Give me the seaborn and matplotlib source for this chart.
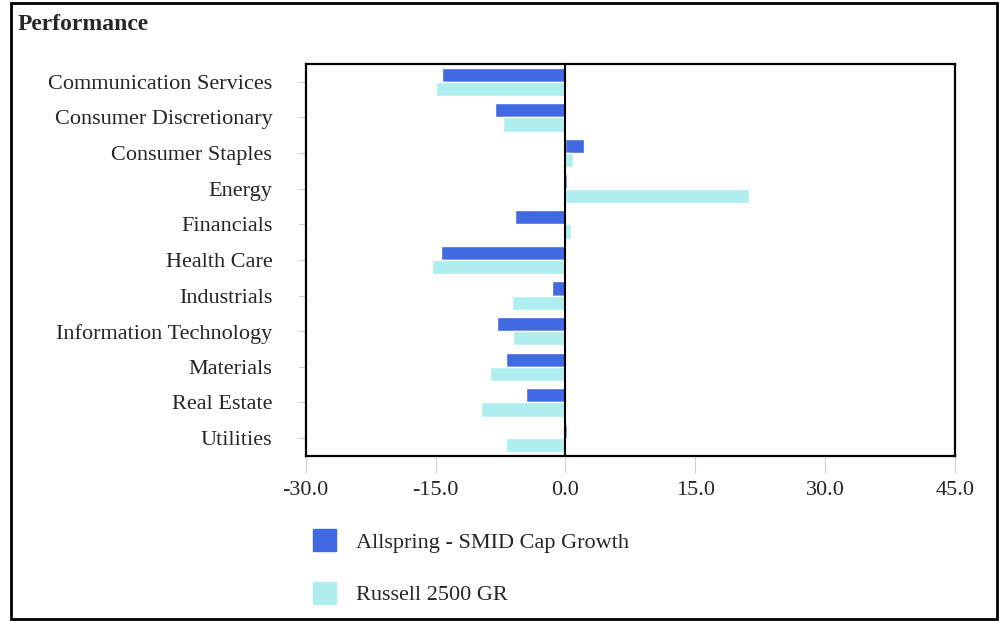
import pandas as pd
import matplotlib
matplotlib.use('Agg')
import matplotlib.pyplot as plt
import seaborn as sns
from matplotlib.patches import Rectangle

# Dados
setores = ['Communication Services', 'Consumer Discretionary', 'Consumer Staples',
           'Energy', 'Financials', 'Health Care', 'Industrials',
           'Information Technology', 'Materials', 'Real Estate', 'Utilities']
allspring = [-14.2, -8.1, 2.1, 0.2, -5.8, -14.4, -1.6, -7.9, -6.9, -4.6, 0.2]
russell = [-14.9, -7.2, 0.9, 21.2, 0.7, -15.4, -6.2, -6.0, -8.7, -9.8, -6.9]
series = ['Allspring - SMID Cap Growth', 'Russell 2500 GR']
cores = ['#4169E1', '#AFEEEE']
xticks = [-30, -15, 0, 15, 30, 45]

df = pd.DataFrame({'setor': setores * 2,
                   'valor': allspring + russell,
                   'serie': [series[0]] * len(setores) + [series[1]] * len(setores)})

sns.set_style('white')
plt.rcParams['font.family'] = ['Liberation Serif', 'DejaVu Serif']

fig = plt.figure(figsize=(9.99, 6.21), dpi=100)
ax = fig.add_axes([0.306, 0.266, 0.650, 0.631])

sns.barplot(data=df, y='setor', x='valor', hue='serie', orient='h',
            palette=cores, width=0.8, saturation=1, ax=ax, legend=False)

ax.axvline(0, color='black', lw=1.5, zorder=3)
ax.set_xlim(-30, 45)
ax.set_ylim(10.5, -0.5)
ax.set_xticks(xticks)
ax.set_xticklabels([f'{v:.1f}' for v in xticks], fontsize=16)
ax.set_yticks(range(len(setores)))
ax.set_yticklabels(setores, fontsize=16)
ax.set_xlabel('')
ax.set_ylabel('')
ax.tick_params(axis='x', bottom=True, length=12, color='#d0d0d0', pad=6)
ax.tick_params(axis='y', left=True, length=6, color='#d0d0d0', pad=18)
for s in ax.spines.values():
    s.set_color('black')
    s.set_linewidth(1.6)

# Legenda abaixo do gráfico
handles = [Rectangle((0, 0), 1, 1, color=c) for c in cores]
fig.legend(handles, series, loc='upper left', bbox_to_anchor=(0.293, 0.18),
           frameon=False, fontsize=16, handlelength=1.05, handleheight=1.15,
           labelspacing=1.3, handletextpad=0.9)

fig.text(0.018, 0.96, 'Performance', fontsize=17, fontweight='bold', va='center')
fig.patches.append(Rectangle((0.011, 0.003), 0.987, 0.992, transform=fig.transFigure,
                             fill=False, edgecolor='black', lw=2))

fig.savefig('out.png', dpi=100)
